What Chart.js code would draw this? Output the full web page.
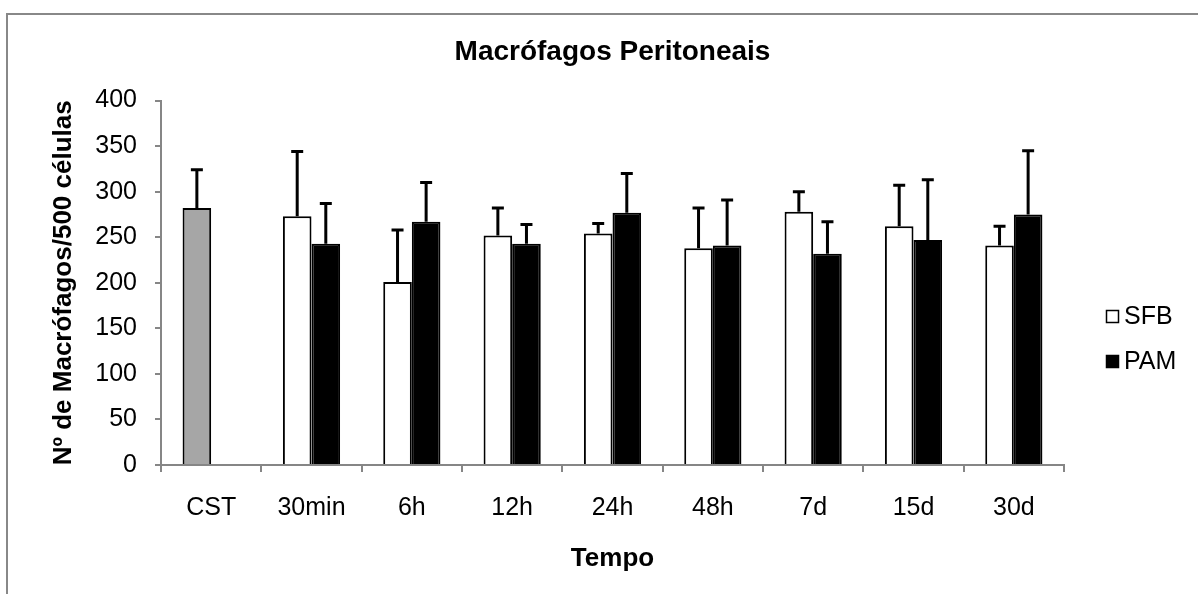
<!DOCTYPE html>
<html>
<head>
<meta charset="utf-8">
<script src="https://cdn.jsdelivr.net/npm/chart.js@4.4.1/dist/chart.umd.min.js"></script>
<style>
    html, body { margin: 0; padding: 0; background: #fff; }
    #wrap { position: relative; width: 1198px; height: 594px; overflow: hidden; }
    #frame {
        position: absolute; left: 6px; top: 13px; right: -10px; bottom: -10px;
        border-left: 2px solid #888; border-top: 2px solid #888;
        pointer-events: none;
    }
    canvas { position: absolute; left: 0; top: 0; }
</style>
</head>
<body>
<div id="wrap">
    <canvas id="macro-chart" width="1198" height="594"></canvas>
    <div id="frame"></div>
</div>
<script>
const categories = ['CST', '30min', '6h', '12h', '24h', '48h', '7d', '15d', '30d'];
// CST control is drawn in the SFB slot, in grey
const sfbValues = [282, 273, 201, 252, 254, 238, 278, 262, 241];
const sfbErrors = [42, 71, 57, 30, 11, 44, 22, 45, 21];
const pamValues = [null, 243, 267, 243, 277, 241, 232, 247, 275];
const pamErrors = [null, 44, 43, 21, 43, 50, 35, 66, 70];
const yTicks = [0, 50, 100, 150, 200, 250, 300, 350, 400];

const FONT = "'Liberation Sans', Arial, sans-serif";
const AXIS_GREY = '#868686';

// one-sided error bars with a cap
const errorBars = {
    id: 'errorBars',
    afterDatasetsDraw(chart) {
        const ctx = chart.ctx;
        const y = chart.scales.y;
        const errs = [sfbErrors, pamErrors];
        ctx.save();
        ctx.strokeStyle = '#000';
        ctx.lineWidth = 3;
        chart.data.datasets.forEach((ds, i) => {
            const meta = chart.getDatasetMeta(i);
            meta.data.forEach((bar, j) => {
                const v = ds.data[j];
                if (v == null || errs[i][j] == null) return;
                const top = y.getPixelForValue(v + errs[i][j]);
                ctx.beginPath();
                ctx.moveTo(bar.x, bar.y);
                ctx.lineTo(bar.x, top);
                ctx.moveTo(bar.x - 6, top);
                ctx.lineTo(bar.x + 6, top);
                ctx.stroke();
            });
        });
        ctx.restore();
    }
};

// legend placed like the spreadsheet one
const sideLegend = {
    id: 'sideLegend',
    afterDraw(chart) {
        const ctx = chart.ctx;
        const items = [
            { text: 'SFB', fill: '#fff', y: 316 },
            { text: 'PAM', fill: '#000', y: 361 }
        ];
        ctx.save();
        ctx.font = '25px ' + FONT;
        ctx.textBaseline = 'middle';
        items.forEach(it => {
            ctx.fillStyle = it.fill;
            ctx.fillRect(1106, it.y - 6, 13, 13);
            ctx.strokeStyle = '#000';
            ctx.lineWidth = 1.5;
            ctx.strokeRect(1106.5, it.y - 5.5, 12, 12);
            ctx.fillStyle = '#000';
            ctx.fillText(it.text, 1124, it.y + 1);
        });
        ctx.restore();
    }
};

const sfbColors = categories.map((c, i) => i === 0 ? '#a6a6a6' : '#ffffff');

new Chart(document.getElementById('macro-chart').getContext('2d'), {
    type: 'bar',
    data: {
        labels: categories,
        datasets: [{
            label: 'SFB',
            data: sfbValues,
            backgroundColor: sfbColors,
            borderColor: '#000',
            borderWidth: 2,
            barPercentage: 1,
            categoryPercentage: 0.57
        }, {
            label: 'PAM',
            data: pamValues,
            backgroundColor: '#000',
            borderColor: '#000',
            borderWidth: 2,
            barPercentage: 1,
            categoryPercentage: 0.57
        }]
    },
    options: {
        responsive: false,
        animation: false,
        layout: {
            padding: { left: 44, right: 134, top: 35, bottom: 16 }
        },
        plugins: {
            legend: { display: false },
            tooltip: { enabled: false },
            title: {
                display: true,
                text: 'Macrófagos Peritoneais',
                fullSize: false,
                color: '#000',
                font: { family: FONT, size: 28, weight: 'bold' },
                padding: { top: 0, bottom: 32 }
            }
        },
        scales: {
            y: {
                min: 0,
                max: 400,
                afterBuildTicks: scale => {
                    scale.ticks = yTicks.map(v => ({ value: v }));
                },
                afterFit: scale => { scale.width = 117; },
                grid: {
                    drawOnChartArea: false,
                    drawTicks: true,
                    tickLength: 6,
                    color: AXIS_GREY,
                    lineWidth: 2
                },
                border: { color: AXIS_GREY, width: 2 },
                ticks: {
                    color: '#000',
                    padding: 18,
                    font: { family: FONT, size: 25 }
                },
                title: {
                    display: true,
                    text: 'Nº de Macrófagos/500 células',
                    color: '#000',
                    font: { family: FONT, size: 26, weight: 'bold' },
                    padding: 4
                }
            },
            x: {
                afterFit: scale => { scale.height = 113; },
                grid: {
                    offset: true,
                    drawOnChartArea: false,
                    drawTicks: true,
                    tickLength: 7,
                    color: AXIS_GREY,
                    lineWidth: 2
                },
                border: { color: AXIS_GREY, width: 2 },
                ticks: {
                    color: '#000',
                    padding: 21,
                    maxRotation: 0,
                    font: { family: FONT, size: 25 }
                },
                title: {
                    display: true,
                    text: 'Tempo',
                    color: '#000',
                    font: { family: FONT, size: 26, weight: 'bold' },
                    padding: 4
                }
            }
        }
    },
    plugins: [errorBars, sideLegend]
});
</script>
</body>
</html>
